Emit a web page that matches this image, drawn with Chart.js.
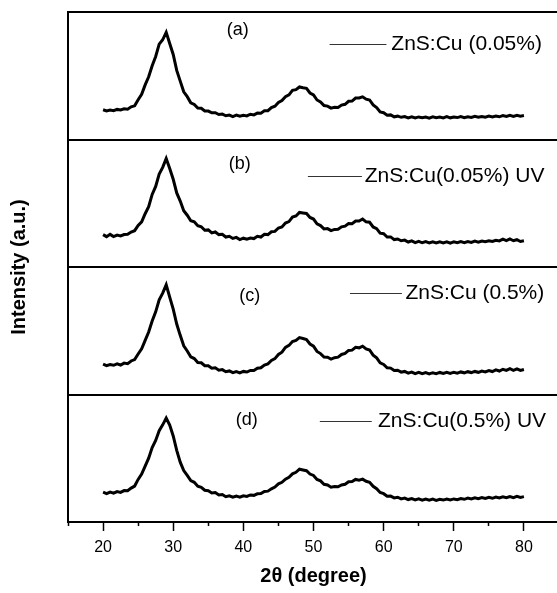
<!DOCTYPE html>
<html><head><meta charset="utf-8">
<script src="https://cdn.jsdelivr.net/npm/chart.js@4.4.0/dist/chart.umd.min.js"></script>
<style>html,body{margin:0;padding:0;overflow:hidden;background:#fff}
#wrap{position:absolute;left:0;top:0;width:562px;height:593px}</style>
</head><body><div id="wrap"><canvas id="c"></canvas></div>
<script>
const twoTheta = [20,20.5,21,21.5,22,22.5,23,23.5,24,24.5,25,25.5,26,26.5,27,27.5,28,28.5,29,29.5,30,30.5,31,31.5,32,32.5,33,33.5,34,34.5,35,35.5,36,36.5,37,37.5,38,38.5,39,39.5,40,40.5,41,41.5,42,42.5,43,43.5,44,44.5,45,45.5,46,46.5,47,47.5,48,48.5,49,49.5,50,50.5,51,51.5,52,52.5,53,53.5,54,54.5,55,55.5,56,56.5,57,57.5,58,58.5,59,59.5,60,60.5,61,61.5,62,62.5,63,63.5,64,64.5,65,65.5,66,66.5,67,67.5,68,68.5,69,69.5,70,70.5,71,71.5,72,72.5,73,73.5,74,74.5,75,75.5,76,76.5,77,77.5,78,78.5,79,79.5,80];

const znsCu005 = [23.3,22.4,23.1,22.6,23.6,23.2,24.1,23.8,25.6,26.4,31.2,35.4,42.8,49.2,57.9,65.1,74.8,78.2,84.0,75.3,66.7,54.2,45.8,37.4,33.6,28.8,27.5,24.6,24.5,22.4,22.3,20.9,21.0,19.6,19.9,18.6,19.2,18.0,19.1,18.2,19.0,18.5,19.8,19.3,20.7,20.6,22.5,22.6,25.0,26.1,29.0,30.5,33.6,35.0,38.6,39.1,41.2,40.6,40.1,36.5,35.0,31.0,29.5,26.6,26.2,24.6,25.2,25.1,27.0,27.6,30.0,30.1,32.5,32.6,33.5,31.6,31.0,27.1,25.0,21.6,21.0,19.1,19.3,17.8,18.3,17.4,18.0,17.0,17.8,16.9,17.7,17.0,17.6,16.8,17.8,17.1,17.6,16.9,17.9,17.0,17.6,17.2,18.0,17.1,17.8,17.3,18.2,17.4,18.1,17.5,18.3,17.6,18.4,17.8,18.7,18.0,18.9,18.1,19.0,18.3,18.8];

const znsCu005UV = [25.4,23.8,25.6,23.9,25.0,24.4,25.5,25.6,27.4,28.5,32.6,35.4,41.8,47.3,56.9,63.2,72.9,78.1,85.0,77.2,68.8,58.1,51.7,44.2,40.6,36.3,35.5,32.4,31.6,28.8,29.1,26.8,27.5,25.4,25.6,23.5,24.1,22.4,23.2,21.5,22.6,21.8,22.7,22.3,24.1,23.5,25.6,25.4,27.6,27.9,30.6,31.4,34.5,35.6,39.1,40.0,42.8,42.4,42.0,38.9,37.6,33.9,32.5,29.9,30.1,28.5,29.5,29.6,31.5,32.0,34.1,33.9,36.1,36.0,37.6,35.4,35.1,31.4,30.1,26.5,26.1,23.5,23.6,21.5,22.0,20.6,21.1,19.6,20.5,19.1,20.1,19.0,19.9,18.9,19.8,18.8,19.7,18.9,19.8,18.7,19.7,19.0,19.9,19.1,20.0,19.3,20.3,19.5,20.4,19.8,20.6,20.0,21.0,20.5,21.8,20.7,22.0,20.6,21.4,20.0,20.6];

const znsCu05 = [23.8,22.6,23.5,22.9,24.0,23.1,24.6,24.2,26.3,27.4,31.8,35.9,42.5,49.0,57.6,64.8,74.2,79.5,86.0,76.4,67.0,55.3,46.4,38.2,34.1,29.5,28.2,25.1,24.9,22.6,22.5,20.6,20.9,19.1,19.5,17.9,18.5,17.1,18.0,17.0,18.1,17.6,18.9,18.8,20.6,21.0,23.1,24.0,26.7,28.1,31.4,33.2,36.9,38.5,41.6,42.4,44.6,43.9,43.1,39.6,37.9,33.8,32.1,29.4,29.2,27.8,28.9,29.3,31.4,32.2,34.6,34.8,37.0,36.6,37.9,35.8,34.9,30.9,28.7,24.8,23.6,21.0,20.7,18.8,19.0,17.5,18.1,16.8,17.6,16.4,17.3,16.3,17.2,16.2,17.1,16.4,17.3,16.5,17.4,16.6,17.5,16.8,17.7,17.0,17.9,17.2,18.1,17.4,18.4,17.7,18.8,18.0,19.3,18.4,19.8,18.9,20.3,19.0,20.1,18.9,19.6];

const znsCu05UV = [23.4,22.3,23.5,22.6,23.9,23.2,24.6,24.5,26.6,28.2,33.4,37.6,43.9,50.1,58.4,64.0,71.6,76.2,81.5,76.0,67.5,56.2,46.9,40.4,36.5,32.4,31.1,28.0,27.2,24.9,24.5,22.8,23.1,21.2,21.6,19.8,20.5,19.4,20.3,19.5,20.6,20.1,21.2,20.9,22.1,22.3,24.0,24.2,26.0,27.4,29.9,31.1,33.6,35.1,37.8,39.0,41.4,40.8,40.2,37.6,36.5,33.4,32.3,29.6,29.0,27.3,27.9,27.6,29.0,29.6,31.5,31.7,33.4,32.8,33.6,31.9,31.2,28.0,26.1,23.1,22.2,20.2,20.3,18.9,19.4,18.1,18.7,17.6,18.4,17.3,18.1,17.2,18.0,17.1,17.9,17.0,17.8,17.2,18.0,17.3,18.1,17.5,18.4,17.8,18.7,18.0,18.9,18.2,19.1,18.4,19.3,18.6,19.6,18.8,19.8,19.0,20.0,19.1,20.2,19.3,19.9];

const panelLabels = ['(a)','(b)','(c)','(d)'];
const seriesNames = ['ZnS:Cu (0.05%)','ZnS:Cu(0.05%) UV','ZnS:Cu (0.5%)','ZnS:Cu(0.5%) UV'];
const xTickValues = [20,30,40,50,60,70,80];
const xMinorTickValues = [15,25,35,45,55,65,75,85];
const xTitle = '2θ (degree)';
const yTitle = 'Intensity (a.u.)';

const F = '"Liberation Sans", Arial, Helvetica, sans-serif';
const series = [znsCu005, znsCu005UV, znsCu05, znsCu05UV];
const yIds = ['ya','yb','yc','yd'];

// annotation placement (x in 2θ units, y in panel units 0-100)
const notePos = [
  {lx:39.2, ly:86, l1:52.3, l2:60.4, tx:61.1, ty:75},
  {lx:39.5, ly:81, l1:49.2, l2:56.9, tx:57.3, ty:71.5},
  {lx:40.9, ly:77, l1:55.2, l2:62.6, tx:63.1, ty:80},
  {lx:40.5, ly:80, l1:50.9, l2:58.3, tx:59.2, ty:79}
];

const notesPlugin = {
  id: 'panelNotes',
  afterDatasetsDraw(chart) {
    const ctx = chart.ctx;
    const xs = chart.scales.x;
    ctx.save();
    notePos.forEach((p, i) => {
      const ys = chart.scales[yIds[i]];
      ctx.fillStyle = '#000';
      ctx.font = '18px ' + F;
      ctx.textAlign = 'center';
      ctx.textBaseline = 'middle';
      ctx.fillText(panelLabels[i], xs.getPixelForValue(p.lx), ys.getPixelForValue(p.ly));
      const ly = Math.round(ys.getPixelForValue(p.ty)) + 0.5;
      ctx.strokeStyle = '#333';
      ctx.lineWidth = 1;
      ctx.beginPath();
      ctx.moveTo(xs.getPixelForValue(p.l1), ly);
      ctx.lineTo(xs.getPixelForValue(p.l2), ly);
      ctx.stroke();
      ctx.font = '21px ' + F;
      ctx.textAlign = 'left';
      ctx.fillText(seriesNames[i], xs.getPixelForValue(p.tx), ly);
    });
    ctx.restore();
  }
};

const yPanel = () => ({
  type: 'linear', position: 'left', stack: 'panels', stackWeight: 1, weight: 0,
  min: 0, max: 100,
  afterBuildTicks: s => { s.ticks = [{value: 100}]; },
  afterFit: s => { s.width = 0; },
  grid: {color: '#000', lineWidth: 2, drawTicks: false, drawOnChartArea: true},
  border: {display: true, color: '#000', width: 2},
  ticks: {display: false}
});

new Chart(document.getElementById('c'), {
  type: 'line',
  data: {
    datasets: series.map((s, i) => ({
      label: seriesNames[i],
      data: twoTheta.map((t, j) => ({x: t, y: s[j]})),
      xAxisID: 'x', yAxisID: yIds[i],
      borderColor: '#000', borderWidth: 3, pointRadius: 0, tension: 0, fill: false,
      borderJoinStyle: 'miter'
    }))
  },
  options: {
    responsive: true, maintainAspectRatio: false, animation: false,
    layout: {padding: {top: 12, right: 3, left: 0, bottom: 0}},
    plugins: {legend: {display: false}, tooltip: {enabled: false}},
    scales: {
      x: {
        type: 'linear', position: 'bottom', min: 15, max: 85, weight: 1,
        afterBuildTicks: s => { s.ticks = xTickValues.map(v => ({value: v})); },
        afterFit: s => { s.height = 71; },
        grid: {drawOnChartArea: false, drawTicks: true, tickLength: 9, tickColor: '#000', tickWidth: 1.5},
        border: {display: true, color: '#000', width: 2},
        ticks: {color: '#000', font: {family: F, size: 16}, padding: 7, maxRotation: 0, autoSkip: false},
        title: {display: true, text: xTitle, color: '#000', font: {family: F, size: 20, weight: 'bold'}, padding: {top: 0, bottom: 5}}
      },
      xm: {
        type: 'linear', position: 'bottom', min: 15, max: 85, weight: 0,
        afterBuildTicks: s => { s.ticks = xMinorTickValues.map(v => ({value: v})); },
        afterFit: s => { s.height = 0; },
        grid: {drawOnChartArea: false, drawTicks: true, tickLength: 4, tickColor: '#000', tickWidth: 1.5},
        border: {display: false},
        ticks: {display: false}
      },
      yTitle: {
        type: 'linear', position: 'left', min: 0, max: 1, weight: 10,
        afterFit: s => { s.width = 68; },
        grid: {display: false}, border: {display: false}, ticks: {display: false},
        title: {display: true, text: yTitle, color: '#000', font: {family: F, size: 20, weight: 'bold'}, padding: {top: 7, bottom: 0}}
      },
      // stacked panels are laid out bottom-up in definition order
      yd: yPanel(), yc: yPanel(), yb: yPanel(), ya: yPanel()
    }
  },
  plugins: [notesPlugin]
});
</script>
</body></html>
